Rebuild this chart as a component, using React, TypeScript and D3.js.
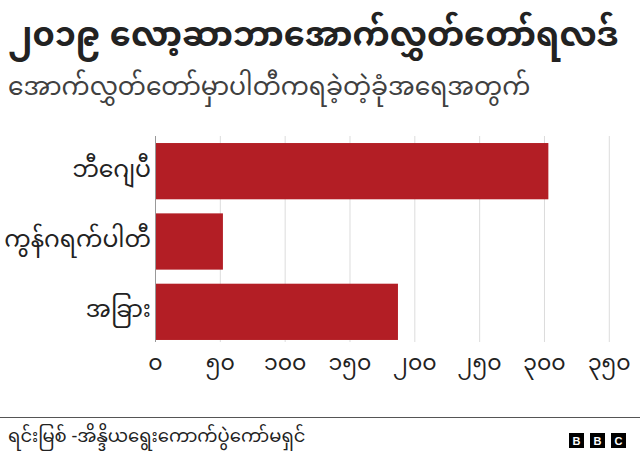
import React from "react";
import * as d3 from "d3";

const categories = ["ဘီဂျေပီ", "ကွန်ဂရက်ပါတီ", "အခြား"];
const seats = [303, 52, 187];
const tickValues = [0, 50, 100, 150, 200, 250, 300, 350];
const tickLabels = ["၀", "၅၀", "၁၀၀", "၁၅၀", "၂၀၀", "၂၅၀", "၃၀၀", "၃၅၀"];
const title = "၂၀၁၉ လော့ဆာဘာအောက်လွှတ်တော်ရလဒ်";
const subtitle = "အောက်လွှတ်တော်မှာပါတီကရခဲ့တဲ့ခုံအရေအတွက်";
const source = "ရင်းမြစ် -အိန္ဒိယရွေးကောက်ပွဲကော်မရှင်";

const W = 640;
const H = 455;
const FONT = "'Noto Sans Myanmar', 'Myanmar Text', Padauk, 'Noto Sans', sans-serif";

export default function App() {
  const x = d3.scaleLinear().domain([0, 350]).range([155.5, 609.3]);
  const y = d3
    .scaleBand()
    .domain(categories)
    .range([136, 347])
    .paddingInner(0.2)
    .paddingOuter(0.1);

  return (
    <svg
      width={W}
      height={H}
      style={{ position: "absolute", left: 0, top: 0, background: "#fff" }}
      fontFamily={FONT}
    >
      <text x={8} y={46} fontSize={33.5} fontWeight={700} fill="#222">
        {title}
      </text>
      <text x={8} y={95} fontSize={25} fill="#404040">
        {subtitle}
      </text>

      {tickValues.map((t, i) =>
        i === 0 ? null : (
          <line
            key={"g" + t}
            x1={x(t)}
            x2={x(t)}
            y1={136}
            y2={342}
            stroke="#dcdcdc"
            strokeWidth={1}
          />
        )
      )}

      {categories.map((c, i) => (
        <rect
          key={c}
          x={x(0)}
          y={y(c)}
          width={x(seats[i]) - x(0)}
          height={y.bandwidth()}
          fill="#b31e25"
        />
      ))}

      <line x1={x(0)} x2={x(0)} y1={136} y2={342} stroke="#999" strokeWidth={1} />

      {categories.map((c) => (
        <text
          key={"l" + c}
          x={151}
          y={(y(c) as number) + y.bandwidth() / 2}
          textAnchor="end"
          dominantBaseline="central"
          fontSize={23.5}
          fill="#222"
        >
          {c}
        </text>
      ))}

      {tickValues.map((t, i) => (
        <text
          key={"t" + t}
          x={x(t)}
          y={370}
          textAnchor="middle"
          fontSize={22}
          fill="#222"
        >
          {tickLabels[i]}
        </text>
      ))}

      <line x1={0} x2={W} y1={417.5} y2={417.5} stroke="#555" strokeWidth={1} />
      <text x={8} y={442} fontSize={18} fill="#222">
        {source}
      </text>

      {["B", "B", "C"].map((l, i) => (
        <g key={"bbc" + i}>
          <rect x={569 + i * 21} y={433} width={15} height={15} fill="#000" />
          <text
            x={569 + i * 21 + 7.5}
            y={441}
            textAnchor="middle"
            dominantBaseline="central"
            fontSize={11}
            fontWeight={700}
            fontFamily="Arial, 'Liberation Sans', sans-serif"
            fill="#fff"
          >
            {l}
          </text>
        </g>
      ))}
    </svg>
  );
}
